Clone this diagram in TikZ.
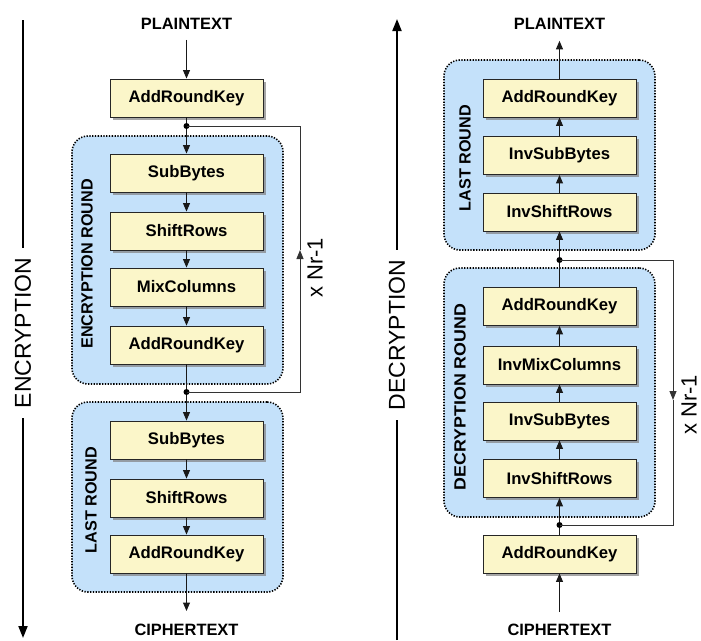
\documentclass[tikz,border=0pt]{standalone}
\usepackage{fontspec}
\setmainfont{Liberation Sans}
\usetikzlibrary{arrows.meta,shadows}
\definecolor{boxfill}{HTML}{FBF6C9}
\definecolor{roundfill}{HTML}{C4E1FA}
\definecolor{linegray}{HTML}{333333}
\begin{document}
\begin{tikzpicture}[x=1pt,y=-1pt,
  opbox/.style={draw=black!85, line width=0.9pt, fill=boxfill,
    minimum width=153pt, minimum height=38pt, inner sep=0pt,
    font=\bfseries\fontsize{16.7}{18}\selectfont,
    drop shadow={shadow xshift=2.5pt, shadow yshift=-2.5pt, fill=black!50, opacity=0.7}},
  roundbox/.style={draw=black, line width=1.6pt, dash pattern=on 1.3pt off 1.5pt,
    fill=roundfill, rounded corners=16pt, inner sep=0pt},
  roundlabel/.style={rotate=90, inner sep=0pt, font=\bfseries\fontsize{16.2}{18}\selectfont},
  endtext/.style={inner sep=0pt, font=\bfseries\fontsize{16.4}{18}\selectfont},
  bigtext/.style={rotate=90, inner sep=0pt, outer xsep=10pt, font=\fontsize{23}{26}\selectfont},
  nrtext/.style={rotate=90, inner sep=0pt, font=\fontsize{22}{24}\selectfont},
  flow/.style={-{Triangle[length=8.5pt,width=7pt]}, line width=1pt, draw=black!90},
  loopline/.style={line width=1pt, draw=linegray},
  looparrow/.style={loopline, -{Triangle[length=9pt,width=7pt]}},
  bigline/.style={line width=1.8pt, draw=black},
  bigarrow/.style={bigline, -{Triangle[length=12pt,width=9pt]}},
  dot/.style={circle, fill=black, inner sep=0pt, minimum size=6pt}
]
\useasboundingbox (0,0) rectangle (701,640);

% ---------- round groups ----------
\node[roundbox, minimum width=211pt, minimum height=248pt] (encround) at (177.5,260) {};
\node[roundbox, minimum width=211pt, minimum height=190pt] (elast) at (177.5,497) {};
\node[roundbox, minimum width=211pt, minimum height=190pt] (dlast) at (549.5,155) {};
\node[roundbox, minimum width=211pt, minimum height=249pt] (decround) at (549.5,392.5) {};

\node[roundlabel] (encroundlbl) at (87,264) {ENCRYPTION ROUND};
\node[roundlabel] (elastlbl) at (91,500) {LAST ROUND};
\node[roundlabel] (dlastlbl) at (465,158) {LAST ROUND};
\node[roundlabel] (decroundlbl) at (460,397) {\scalebox{1.1}[1]{DECRYPTION ROUND}};

% ---------- encryption ----------
\node[endtext] (pt1) at (186.5,24) {PLAINTEXT};
\node[opbox] (ark1) at (186.5,98) {AddRoundKey};
\node[opbox] (sb1) at (186.5,173) {SubBytes};
\node[opbox] (sr1) at (186.5,231) {ShiftRows};
\node[opbox] (mc1) at (186.5,287) {MixColumns};
\node[opbox] (ark2) at (186.5,345) {AddRoundKey};
\node[opbox] (sb2) at (186.5,440) {SubBytes};
\node[opbox] (sr2) at (186.5,498) {ShiftRows};
\node[opbox] (ark3) at (186.5,554) {AddRoundKey};
\node[endtext] (ct1) at (186.5,630) {CIPHERTEXT};

\draw[flow, shorten <=10pt] (pt1) -- (ark1);
\draw[flow] (ark1) -- (sb1);
\draw[flow] (sb1) -- (sr1);
\draw[flow] (sr1) -- (mc1);
\draw[flow] (mc1) -- (ark2);
\draw[flow] (ark2) -- (sb2);
\draw[flow] (sb2) -- (sr2);
\draw[flow] (sr2) -- (ark3);
\draw[flow, shorten >=13pt] (ark3) -- (ct1);

\node[dot] (ed1) at (186.5,126) {};
\node[dot] (ed2) at (186.5,392) {};
\coordinate (ec1) at (300,126);
\coordinate (ecm) at (300,250);
\coordinate (ec2) at (300,392);
\draw[looparrow] (ed2.center) -- (ec2) -- (ecm);
\draw[loopline] (ecm) -- (ec1) -- (ed1.center);
\node[nrtext] (enr) at (315,268) {x Nr-1};

\coordinate (encTop) at (23,20);
\coordinate (encBot) at (23,638);
\node[bigtext] (enc) at (23,333) {ENCRYPTION};
\draw[bigline] (encTop) -- (enc);
\draw[bigarrow] (enc) -- (encBot);

% ---------- decryption ----------
\node[endtext] (pt2) at (559.5,24) {PLAINTEXT};
\node[opbox] (dark1) at (559.5,98) {AddRoundKey};
\node[opbox] (isb1) at (559.5,155.5) {InvSubBytes};
\node[opbox] (isr1) at (559.5,212) {InvShiftRows};
\node[opbox] (dark2) at (559.5,306.5) {AddRoundKey};
\node[opbox] (imc) at (559.5,365) {InvMixColumns};
\node[opbox] (isb2) at (559.5,421) {InvSubBytes};
\node[opbox] (isr2) at (559.5,478.5) {InvShiftRows};
\node[opbox] (dark3) at (559.5,554) {AddRoundKey};
\node[endtext] (ct2) at (559.5,630) {CIPHERTEXT};

\draw[flow, shorten <=12pt] (ct2) -- (dark3);
\draw[flow] (dark3) -- (isr2);
\draw[flow] (isr2) -- (isb2);
\draw[flow] (isb2) -- (imc);
\draw[flow] (imc) -- (dark2);
\draw[flow] (dark2) -- (isr1);
\draw[flow] (isr1) -- (isb1);
\draw[flow] (isb1) -- (dark1);
\draw[flow, shorten >=11pt] (dark1) -- (pt2);

\node[dot] (dd1) at (559.5,260) {};
\node[dot] (dd2) at (559.5,525) {};
\coordinate (dc1) at (673,260);
\coordinate (dcm) at (673,400);
\coordinate (dc2) at (673,525);
\draw[looparrow] (dd1.center) -- (dc1) -- (dcm);
\draw[loopline] (dcm) -- (dc2) -- (dd2.center);
\node[nrtext] (dnr) at (689,405) {x Nr-1};

\coordinate (decTop) at (397,19);
\coordinate (decBot) at (397,640);
\node[bigtext] (dec) at (397,335) {DECRYPTION};
\draw[bigline] (decBot) -- (dec);
\draw[bigarrow] (dec) -- (decTop);
\end{tikzpicture}
\end{document}
